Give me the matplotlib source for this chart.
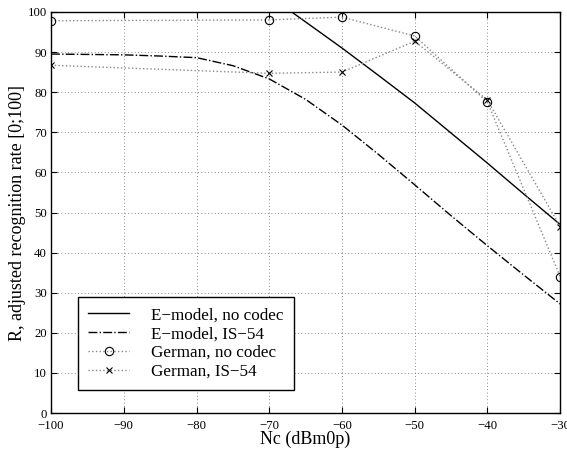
import numpy as np
import matplotlib.pyplot as plt

plt.rcParams['font.family'] = ['Liberation Serif', 'DejaVu Serif']

# measured noise levels (dBm0p)
nc_meas = [-100, -70, -60, -50, -40, -30]
german_nocodec = [97.8, 98.0, 98.7, 94.0, 77.5, 34.0]
german_is54 = [86.7, 84.7, 85.0, 92.7, 78.0, 46.5]

# E-model curves
nc_model = [-100, -95, -90, -85, -80, -75, -70, -65, -60, -55, -50, -45, -40, -35, -30]
emodel_nocodec = [130, 128, 125, 121, 116, 110, 104, 97.5, 91.0, 84.2, 77.3, 69.8, 62.3, 54.6, 47.0]
emodel_is54 = [89.5, 89.4, 89.3, 89.0, 88.6, 86.6, 83.3, 78.2, 71.8, 64.5, 56.9, 49.2, 41.7, 34.4, 27.2]

fig = plt.figure(figsize=(5.67, 4.58), dpi=100)
ax = fig.add_axes([0.090, 0.098, 0.898, 0.876])

ax.plot(nc_model, emodel_nocodec, '-', color='black', lw=1.0, label='E\u2212model, no codec')
ax.plot(nc_model, emodel_is54, '-.', color='black', lw=1.0, label='E\u2212model, IS\u221254')
ax.plot(nc_meas, german_nocodec, ':', color='#888888', lw=1.0, marker='o', ms=6,
        mfc='none', mec='black', mew=0.8, label='German, no codec')
ax.plot(nc_meas, german_is54, ':', color='#888888', lw=1.0, marker='x', ms=4,
        mec='black', mew=0.8, label='German, IS\u221254')

ax.set_xlim(-100, -30)
ax.set_ylim(0, 100)
ax.set_xticks(range(-100, -29, 10))
ax.set_yticks(range(0, 101, 10))
ax.set_xticklabels([str(v).replace('-', '\u2212') for v in range(-100, -29, 10)])
ax.grid(True, linestyle=(0, (1, 3)), color='#666666', lw=0.6)
ax.tick_params(direction='in', top=True, right=True, labelsize=9.2, length=4, pad=3)
ax.tick_params(axis='x', pad=5)
for s in ax.spines.values():
    s.set_linewidth(1.0)

ax.set_xlabel('Nc (dBm0p)', fontsize=13, labelpad=-1)
ax.set_ylabel('R, adjusted recognition rate [0;100]', fontsize=13, labelpad=1)

leg = ax.legend(loc='lower left', bbox_to_anchor=(0.053, 0.057), fontsize=12.3,
                fancybox=False, framealpha=1, edgecolor='black', handlelength=2.4,
                handletextpad=1.3, borderpad=0.6, labelspacing=0.17, borderaxespad=0)
leg.get_frame().set_linewidth(1.0)

fig.savefig('out.png', dpi=100)
